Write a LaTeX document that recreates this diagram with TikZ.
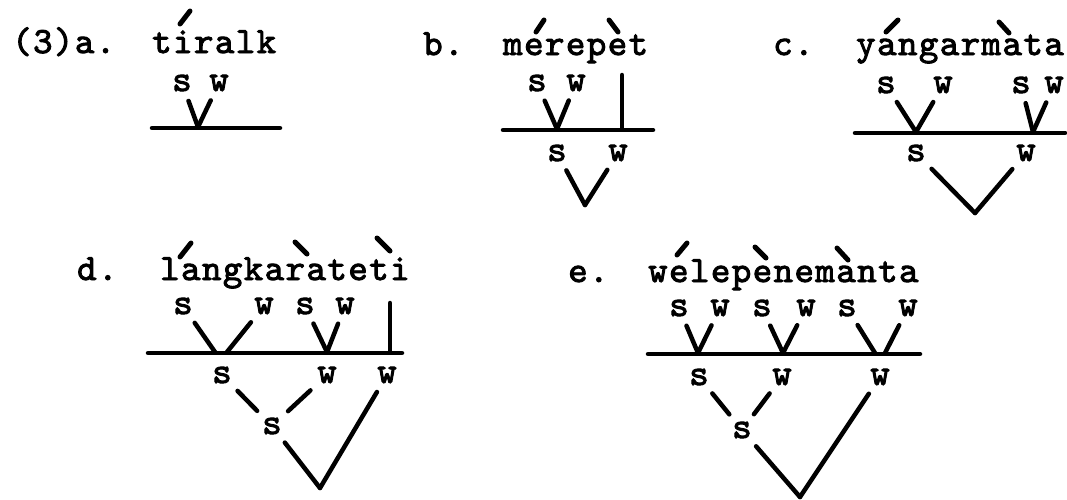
\documentclass[tikz,border=0pt]{standalone}
\usepackage{fontspec}
\newfontfamily\tw[LetterSpace=4,FakeBold=2.5]{lmmono10-regular.otf}
\usepackage{tikz}
\usetikzlibrary{calc}

\begin{document}
\begin{tikzpicture}[
    x=1pt, y=-1pt,
    word/.style={font=\tw\fontsize{37}{40}\selectfont, anchor=base west, inner sep=0pt},
    lbl/.style={font=\tw\fontsize{37}{40}\selectfont, inner sep=1pt},
    arm/.style={line width=4.5pt, line cap=round, shorten <=9pt},
    floor/.style={line width=4.5pt, line cap=round},
    acc/.style={line width=5pt, line cap=round}
  ]
  \useasboundingbox (0,0) rectangle (1067,499);

  % (3)a.
  \node[word] (numA) at (12,53) {(3)a.};
  \node[word] (tiralk) at (152,53) {tiralk};
  \draw[acc] (180,24) -- (190,11);
  \node[lbl] (aS) at (182,83) {s};
  \node[lbl] (aW) at (219,83) {w};
  \coordinate (aL) at (152,128);
  \coordinate (aR) at (280,128);
  \coordinate (aV) at (198,127);
  \draw[floor] (aL) -- (aR);
  \draw[arm] (aS) -- (aV);
  \draw[arm] (aW) -- (aV);

  % b.
  \node[word] (numB) at (423,55) {b.};
  \node[word] (merepet) at (503,55) {merepet};
  \draw[acc] (536,32) -- (544,20);
  \draw[acc] (609,20) -- (618,32);
  \node[lbl] (bS1) at (537,83) {s};
  \node[lbl] (bW1) at (576,83) {w};
  \coordinate (bT) at (622,75);
  \coordinate (bL) at (503,130);
  \coordinate (bR) at (653,130);
  \coordinate (bV1) at (557,129);
  \coordinate (bV2) at (622,129);
  \draw[floor] (bL) -- (bR);
  \draw[arm] (bS1) -- (bV1);
  \draw[arm] (bW1) -- (bV1);
  \draw[floor] (bT) -- (bV2);
  \node[lbl] (bS2) at (557,153) {s};
  \node[lbl] (bW2) at (618,153) {w};
  \coordinate (bV3) at (585,205);
  \draw[arm] (bS2) -- (bV3);
  \draw[arm] (bW2) -- (bV3);

  % c.
  \node[word] (numC) at (773,55) {c.};
  \node[word] (yangarmata) at (856,55) {yangarmata};
  \draw[acc] (886,32) -- (898,20);
  \draw[acc] (999,22) -- (1009,33);
  \node[lbl] (cS1) at (886,85) {s};
  \node[lbl] (cW1) at (943,85) {w};
  \node[lbl] (cS2) at (1021,85) {s};
  \node[lbl] (cW2) at (1054,85) {w};
  \coordinate (cL) at (855,133);
  \coordinate (cR) at (1065,133);
  \coordinate (cV1) at (916,132);
  \coordinate (cV2) at (1033,132);
  \draw[floor] (cL) -- (cR);
  \draw[arm] (cS1) -- (cV1);
  \draw[arm] (cW1) -- (cV1);
  \draw[arm] (cS2) -- (cV2);
  \draw[arm] (cW2) -- (cV2);
  \node[lbl] (cS3) at (916,153) {s};
  \node[lbl] (cW3) at (1026,153) {w};
  \coordinate (cV3) at (975,213);
  \draw[arm] (cS3) -- (cV3);
  \draw[arm] (cW3) -- (cV3);

  % d.
  \node[word] (numD) at (77,280) {d.};
  \node[word] (langkarateti) at (160,280) {langkarateti};
  \draw[acc] (180,257) -- (191,243);
  \draw[acc] (295,242) -- (307,254);
  \draw[acc] (377,238) -- (390,251);
  \node[lbl] (dS1) at (183,306) {s};
  \node[lbl] (dW1) at (264,306) {w};
  \node[lbl] (dS2) at (305,306) {s};
  \node[lbl] (dW2) at (345,306) {w};
  \coordinate (dT) at (390,303);
  \coordinate (dL) at (148,353);
  \coordinate (dR) at (402,353);
  \coordinate (dV1) at (215,352);
  \coordinate (dV1b) at (227,352);
  \coordinate (dV2) at (327,352);
  \coordinate (dV0) at (390,352);
  \draw[floor] (dL) -- (dR);
  \draw[arm] (dS1) -- (dV1);
  \draw[arm] (dW1) -- (dV1b);
  \draw[arm] (dS2) -- (dV2);
  \draw[arm] (dW2) -- (dV2);
  \draw[floor] (dT) -- (dV0);
  \node[lbl] (dS3) at (222,375) {s};
  \node[lbl] (dW3) at (327,375) {w};
  \node[lbl] (dW4) at (387,375) {w};
  \node[lbl] (dS4) at (272,426) {s};
  \draw[arm, shorten >=8pt] (dS3) -- (dS4);
  \draw[arm, shorten >=8pt] (dW3) -- (dS4);
  \coordinate (dV3) at (320,488);
  \draw[arm] (dS4) -- (dV3);
  \draw[arm] (dW4) -- (dV3);

  % e.
  \node[word] (numE) at (568,282) {e.};
  \node[word] (welepenemanta) at (648,282) {welepenemanta};
  \draw[acc] (677,255) -- (687,243);
  \draw[acc] (755,247) -- (766,258);
  \draw[acc] (837,248) -- (848,260);
  \node[lbl] (eS1) at (679,308) {s};
  \node[lbl] (eW1) at (720,308) {w};
  \node[lbl] (eS2) at (762,308) {s};
  \node[lbl] (eW2) at (806,308) {w};
  \node[lbl] (eS3) at (847,308) {s};
  \node[lbl] (eW3) at (908,308) {w};
  \coordinate (eL) at (648,354);
  \coordinate (eR) at (920,354);
  \coordinate (eV1) at (698,353);
  \coordinate (eV2) at (783,353);
  \coordinate (eV3) at (875,353);
  \coordinate (eV3b) at (885,353);
  \draw[floor] (eL) -- (eR);
  \draw[arm] (eS1) -- (eV1);
  \draw[arm] (eW1) -- (eV1);
  \draw[arm] (eS2) -- (eV2);
  \draw[arm] (eW2) -- (eV2);
  \draw[arm] (eS3) -- (eV3);
  \draw[arm] (eW3) -- (eV3b);
  \node[lbl] (eS4) at (699,377) {s};
  \node[lbl] (eW4) at (782,377) {w};
  \node[lbl] (eW5) at (880,377) {w};
  \node[lbl] (eS5) at (742,430) {s};
  \draw[arm, shorten >=8pt] (eS4) -- (eS5);
  \draw[arm, shorten >=8pt] (eW4) -- (eS5);
  \coordinate (eV4) at (800,497);
  \draw[arm] (eS5) -- (eV4);
  \draw[arm] (eW5) -- (eV4);
\end{tikzpicture}
\end{document}
